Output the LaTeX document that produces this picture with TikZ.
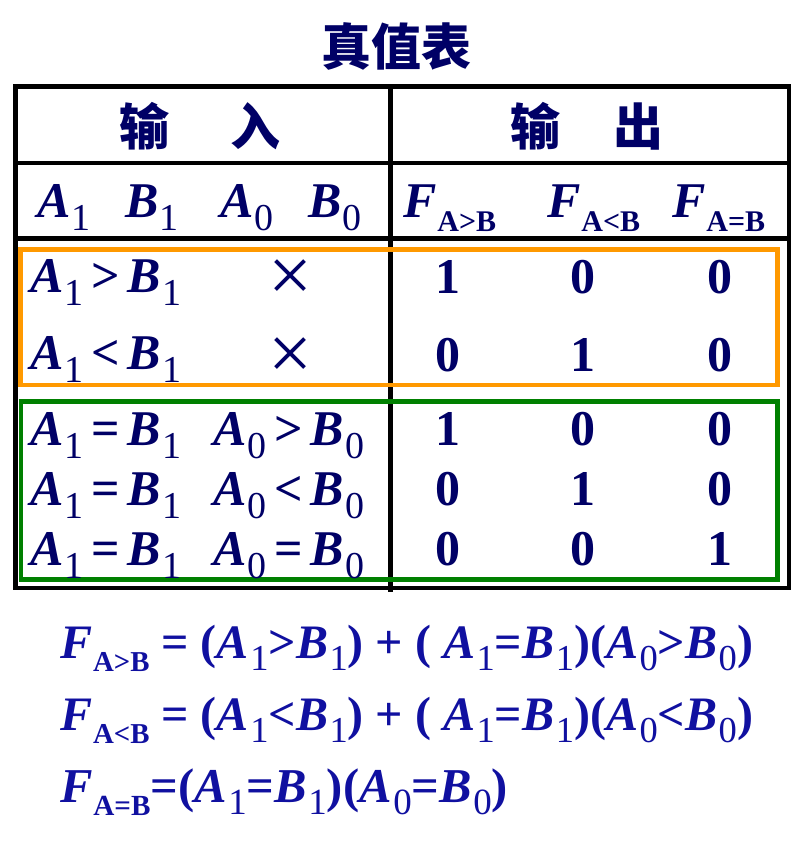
\documentclass[tikz,border=0pt]{standalone}
\usepackage{fontspec}
\setmainfont{Liberation Serif}
\newfontfamily\cjk{Noto Sans CJK SC}
\usepackage{graphicx}
\definecolor{navy}{RGB}{0,0,102}
\definecolor{fblue}{RGB}{16,16,160}
\definecolor{boxorange}{RGB}{255,153,0}
\definecolor{boxgreen}{RGB}{0,128,0}
\newcommand{\Vr}[1]{\textbf{\textit{#1}}}
\newcommand{\Sd}[1]{\kern1.5pt\raisebox{-13pt}{\fontsize{38}{38}\selectfont\mdseries\upshape #1}}
\newcommand{\Sf}[1]{\kern1pt\raisebox{-14pt}{\fontsize{30}{30}\selectfont\bfseries\upshape #1}}
\newcommand{\gap}{\hspace{7.5pt}}
\begin{document}
\begin{tikzpicture}[x=1pt,y=-1pt,
  txt/.style={inner sep=0pt, outer sep=0pt, anchor=base west, text=navy, font=\fontsize{50}{60}\selectfont\bfseries},
  num/.style={txt, anchor=base},
  cross/.style={inner sep=0pt, outer sep=0pt, anchor=center, text=navy, font=\fontsize{78}{80}\selectfont\mdseries},
  han/.style={inner sep=0pt, outer sep=0pt, anchor=base, text=navy, font=\fontsize{50}{60}\selectfont\cjk\bfseries},
  frm/.style={inner sep=0pt, outer sep=0pt, anchor=base west, text=fblue, font=\fontsize{50}{60}\selectfont\bfseries},
  grid/.style={line width=4.6pt, black},
  obox/.style={line width=4.4pt, draw=boxorange},
  gbox/.style={line width=4.4pt, draw=boxgreen}]
\useasboundingbox (0,0) rectangle (795,843);
% title
\node[han] (title) at (396,66) {真值表};
% table frame
\draw[grid] (15.5,86.5) rectangle (789,588);
\draw[grid] (15.5,163) -- (789,163);
\draw[grid] (15.5,238.5) -- (789,238.5);
\draw[grid] (390.5,86.5) -- (390.5,592);
% headers
\node[han] (h1) at (144,145) {输};
\node[han] (h2) at (255,145) {入};
\node[han] (h3) at (535,145) {输};
\node[han] (h4) at (638,145) {出};
% column labels
\node[txt] (cA1) at (37,217) {\Vr{A}\Sd{1}};
\node[txt] (cB1) at (125,217) {\Vr{B}\Sd{1}};
\node[txt] (cA0) at (220,217) {\Vr{A}\Sd{0}};
\node[txt] (cB0) at (308,217) {\Vr{B}\Sd{0}};
\node[txt] (cF1) at (403,217) {\Vr{F}\Sf{A>B}};
\node[txt] (cF2) at (547,217) {\Vr{F}\Sf{A<B}};
\node[txt] (cF3) at (672,217) {\Vr{F}\Sf{A=B}};
% orange group
\draw[obox] (20.5,249.5) rectangle (777.5,385);
\node[txt] (r1a) at (30,292) {\Vr{A}\Sd{1}\gap>\gap\Vr{B}\Sd{1}};
\node[cross] (r1x) at (290,281) {×};
\node[num] (r1o1) at (448,293) {1};
\node[num] (r1o2) at (583,293) {0};
\node[num] (r1o3) at (720,293) {0};
\node[txt] (r2a) at (30,369) {\Vr{A}\Sd{1}\gap<\gap\Vr{B}\Sd{1}};
\node[cross] (r2x) at (290,359) {×};
\node[num] (r2o1) at (448,371) {0};
\node[num] (r2o2) at (583,371) {1};
\node[num] (r2o3) at (720,371) {0};
% green group
\draw[gbox] (21,401.5) rectangle (777.5,579.5);
\node[txt] (r3a) at (30,445) {\Vr{A}\Sd{1}\gap=\gap\Vr{B}\Sd{1}};
\node[txt] (r3b) at (213,445) {\Vr{A}\Sd{0}\gap>\gap\Vr{B}\Sd{0}};
\node[num] (r3o1) at (448,445) {1};
\node[num] (r3o2) at (583,445) {0};
\node[num] (r3o3) at (720,445) {0};
\node[txt] (r4a) at (30,505) {\Vr{A}\Sd{1}\gap=\gap\Vr{B}\Sd{1}};
\node[txt] (r4b) at (213,505) {\Vr{A}\Sd{0}\gap<\gap\Vr{B}\Sd{0}};
\node[num] (r4o1) at (448,505) {0};
\node[num] (r4o2) at (583,505) {1};
\node[num] (r4o3) at (720,505) {0};
\node[txt] (r5a) at (30,565) {\Vr{A}\Sd{1}\gap=\gap\Vr{B}\Sd{1}};
\node[txt] (r5b) at (213,565) {\Vr{A}\Sd{0}\gap=\gap\Vr{B}\Sd{0}};
\node[num] (r5o1) at (448,565) {0};
\node[num] (r5o2) at (583,565) {0};
\node[num] (r5o3) at (720,565) {1};
% formulas
\node[frm] (f1) at (60,658) {\resizebox{693pt}{!}{\Vr{F}\Sf{A>B} = (\Vr{A}\Sd{1}>\Vr{B}\Sd{1}) + ( \Vr{A}\Sd{1}=\Vr{B}\Sd{1})(\Vr{A}\Sd{0}>\Vr{B}\Sd{0})}};
\node[frm] (f2) at (60,730) {\resizebox{693pt}{!}{\Vr{F}\Sf{A<B} = (\Vr{A}\Sd{1}<\Vr{B}\Sd{1}) + ( \Vr{A}\Sd{1}=\Vr{B}\Sd{1})(\Vr{A}\Sd{0}<\Vr{B}\Sd{0})}};
\node[frm] (f3) at (60,802) {\resizebox{448pt}{!}{\Vr{F}\Sf{A=B}=(\Vr{A}\Sd{1}=\Vr{B}\Sd{1})(\Vr{A}\Sd{0}=\Vr{B}\Sd{0})}};
\end{tikzpicture}
\end{document}
